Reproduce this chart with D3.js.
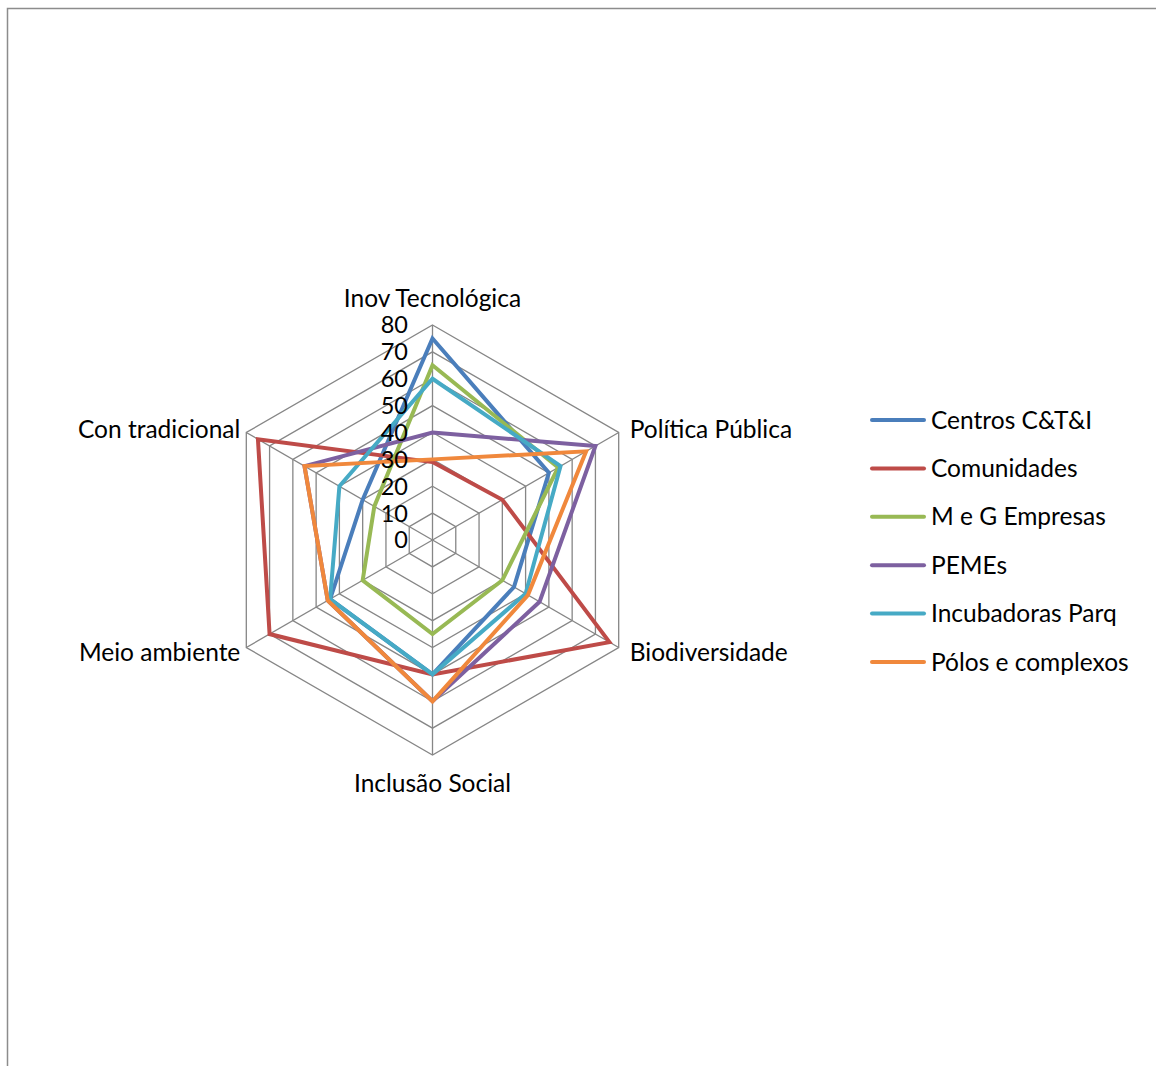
<!DOCTYPE html>
<html>
<head>
<meta charset="utf-8">
<script src="https://cdn.jsdelivr.net/npm/d3@7"></script>
<style>
  html, body { margin: 0; padding: 0; background: #fff; }
  svg { display: block; }
  text { font-family: Lato, "Open Sans", sans-serif; fill: #000; }
</style>
</head>
<body>
<svg id="chart" width="1156" height="1066"></svg>
<script>
const categories = ["Inov Tecnológica", "Política Pública", "Biodiversidade", "Inclusão Social", "Meio ambiente", "Con tradicional"];
const seriesNames = ["Centros C&T&I", "Comunidades", "M e G Empresas", "PEMEs", "Incubadoras Parq", "Pólos e complexos"];
const centros      = [75, 50, 35, 50, 44, 30];
const comunidades  = [29, 30, 76, 50, 70, 75];
const megEmpresas  = [65, 54, 30, 35, 30, 25];
const pemes        = [40, 70, 46, 60, 45, 55];
const incubadoras  = [60, 55, 40, 50, 44, 40];
const polos        = [30, 66, 41, 60, 45, 55];
const tickValues = [0, 10, 20, 30, 40, 50, 60, 70, 80];
const seriesValues = [centros, comunidades, megEmpresas, pemes, incubadoras, polos];
const colors = ["#4A7EBB", "#BE4B48", "#98B954", "#7D60A0", "#46AAC5", "#F0883C"];

const svg = d3.select("#chart");
const cx = 432.5, cy = 540, R = 215;
const r = d3.scaleLinear().domain([0, 80]).range([0, R]);
const angle = d3.scaleLinear().domain([0, categories.length]).range([0, 2 * Math.PI]);
const pt = (i, v) => [cx + r(v) * Math.sin(angle(i)), cy - r(v) * Math.cos(angle(i))];

// frame
svg.append("rect").attr("x", 7.5).attr("y", 8.5).attr("width", 1300).attr("height", 1300)
  .attr("fill", "none").attr("stroke", "#8c8c8c").attr("stroke-width", 1.5);

// grid
const grid = svg.append("g");
tickValues.filter(t => t > 0).forEach(t => {
  grid.append("polygon")
    .attr("points", categories.map((c, i) => pt(i, t).join(",")).join(" "))
    .attr("fill", "none").attr("stroke", "#868686").attr("stroke-width", 1.3);
});
categories.forEach((c, i) => {
  const [x, y] = pt(i, 80);
  grid.append("line").attr("x1", cx).attr("y1", cy).attr("x2", x).attr("y2", y)
    .attr("stroke", "#868686").attr("stroke-width", 1.3);
});

// series
const line = d3.line().curve(d3.curveLinearClosed);
seriesValues.forEach((vals, s) => {
  svg.append("path")
    .attr("d", line(vals.map((v, i) => pt(i, v))))
    .attr("fill", "none").attr("stroke", colors[s]).attr("stroke-width", 4)
    .attr("stroke-linejoin", "miter");
});

// tick labels
const fs = 24.5, tfs = 23.5;
tickValues.forEach(t => {
  svg.append("text").attr("x", 408).attr("y", cy - r(t)).attr("dy", "0.36em")
    .attr("text-anchor", "end").attr("font-size", tfs).text(t);
});

// category labels
categories.forEach((c, i) => {
  const [x, y] = pt(i, 80);
  const a = angle(i);
  const t = svg.append("text").attr("font-size", fs).text(c);
  const s = Math.sin(a), co = Math.cos(a);
  if (Math.abs(s) < 0.01) {
    t.attr("text-anchor", "middle").attr("x", x)
      .attr("y", co > 0 ? y - 18 : y + 37);
  } else if (s > 0) {
    t.attr("text-anchor", "start").attr("x", x + 11).attr("y", y + (co > 0 ? -3 : 5)).attr("dy", "0.35em");
  } else {
    t.attr("text-anchor", "end").attr("x", x - 6).attr("y", y + (co > 0 ? -3 : 5)).attr("dy", "0.35em");
  }
});

// legend
const leg = svg.append("g");
seriesNames.forEach((n, s) => {
  const y = 420 + s * 48.4;
  leg.append("line").attr("x1", 872).attr("x2", 924).attr("y1", y).attr("y2", y)
    .attr("stroke", colors[s]).attr("stroke-width", 4).attr("stroke-linecap", "round");
  leg.append("text").attr("x", 931).attr("y", y).attr("dy", "0.35em")
    .attr("font-size", fs).text(n);
});
</script>
</body>
</html>
